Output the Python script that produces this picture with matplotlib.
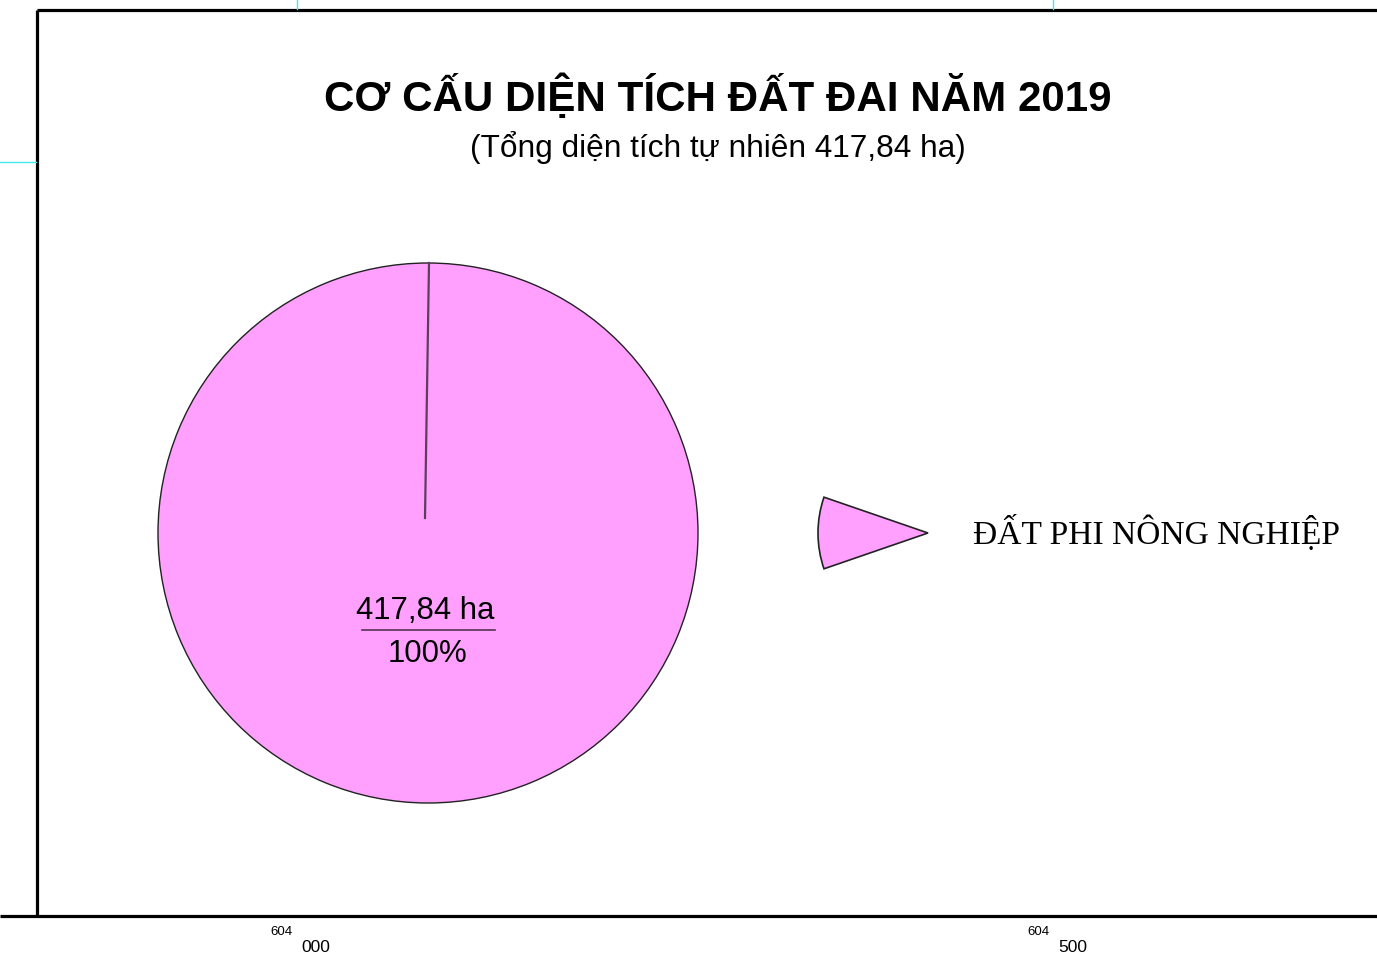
import matplotlib
matplotlib.use("Agg")
import matplotlib.pyplot as plt
from matplotlib.patches import Wedge
import numpy as np

# data
categories = ["ĐẤT PHI NÔNG NGHIỆP"]
areas_ha = [417.84]
total_ha = 417.84
title = "CƠ CẤU DIỆN TÍCH ĐẤT ĐAI NĂM 2019"
subtitle = "(Tổng diện tích tự nhiên 417,84 ha)"
grid_labels = [("604", "000"), ("604", "500")]

pie_color = "#FFA0FF"
W, H = 1377, 956

fig = plt.figure(figsize=(W / 100, H / 100), dpi=100)
ax = fig.add_axes([0, 0, 1, 1])

# pie (pixel coords, y down)
cx, cy, r = 428, 533, 270
wedges, _ = ax.pie(areas_ha, colors=[pie_color], center=(cx, cy), radius=r,
                   startangle=90, counterclock=False,
                   wedgeprops=dict(edgecolor="#222222", linewidth=1.0))
ax.set_xlim(0, W)
ax.set_ylim(H, 0)
ax.set_aspect("auto")
ax.axis("off")

# seam line of the single slice
ax.plot([cx - 3, cx + 1], [cy - 15, cy - r], color="#603a60", lw=1.6)

# slice label
pct = areas_ha[0] / total_ha * 100
val = f"{areas_ha[0]:.2f}".replace(".", ",") + " ha"
ax.text(cx - 3, cy + 78, val, ha="center", va="center", fontsize=22.4,
        family="Liberation Sans")
ax.plot([cx - 66, cx + 67], [cy + 97, cy + 97], color="#553355", lw=1.2)
ax.text(cx, cy + 121, f"{pct:.0f}%", ha="center", va="center", fontsize=22.4,
        family="Liberation Sans")

# legend marker and text
ax.add_patch(Wedge((928, 533), 110, 161, 199, facecolor=pie_color,
                   edgecolor="#222222", lw=1.2))
ax.text(973, 533, categories[0], ha="left", va="center", fontsize=24.1,
        family="Liberation Serif")

# titles
ax.text(718, 97, title, ha="center", va="center", fontsize=30.3,
        fontweight="bold", family="Liberation Sans")
ax.text(718, 148, subtitle, ha="center", va="center", fontsize=22.8,
        family="Liberation Sans")

# map frame
ax.plot([37, W], [10, 10], color="black", lw=2.3, solid_capstyle="butt")
ax.plot([37, 37], [10, 916], color="black", lw=2.3, solid_capstyle="butt")
ax.plot([0, W], [916, 916], color="black", lw=2.3, solid_capstyle="butt")
ax.plot([0, 36], [162, 162], color="#40e8e8", lw=1.0)
for x in (297, 1053):
    ax.plot([x, x], [0, 9], color="#40e8e8", lw=1.0)

# grid coordinate labels
for (top, bot), x in zip(grid_labels, (270, 1027)):
    ax.text(x, 932, top, ha="left", va="center", fontsize=9.5,
            family="Liberation Sans")
    ax.text(x + 31, 947, bot, ha="left", va="center", fontsize=12.5,
            family="Liberation Sans")

fig.savefig("out.png", dpi=100)
